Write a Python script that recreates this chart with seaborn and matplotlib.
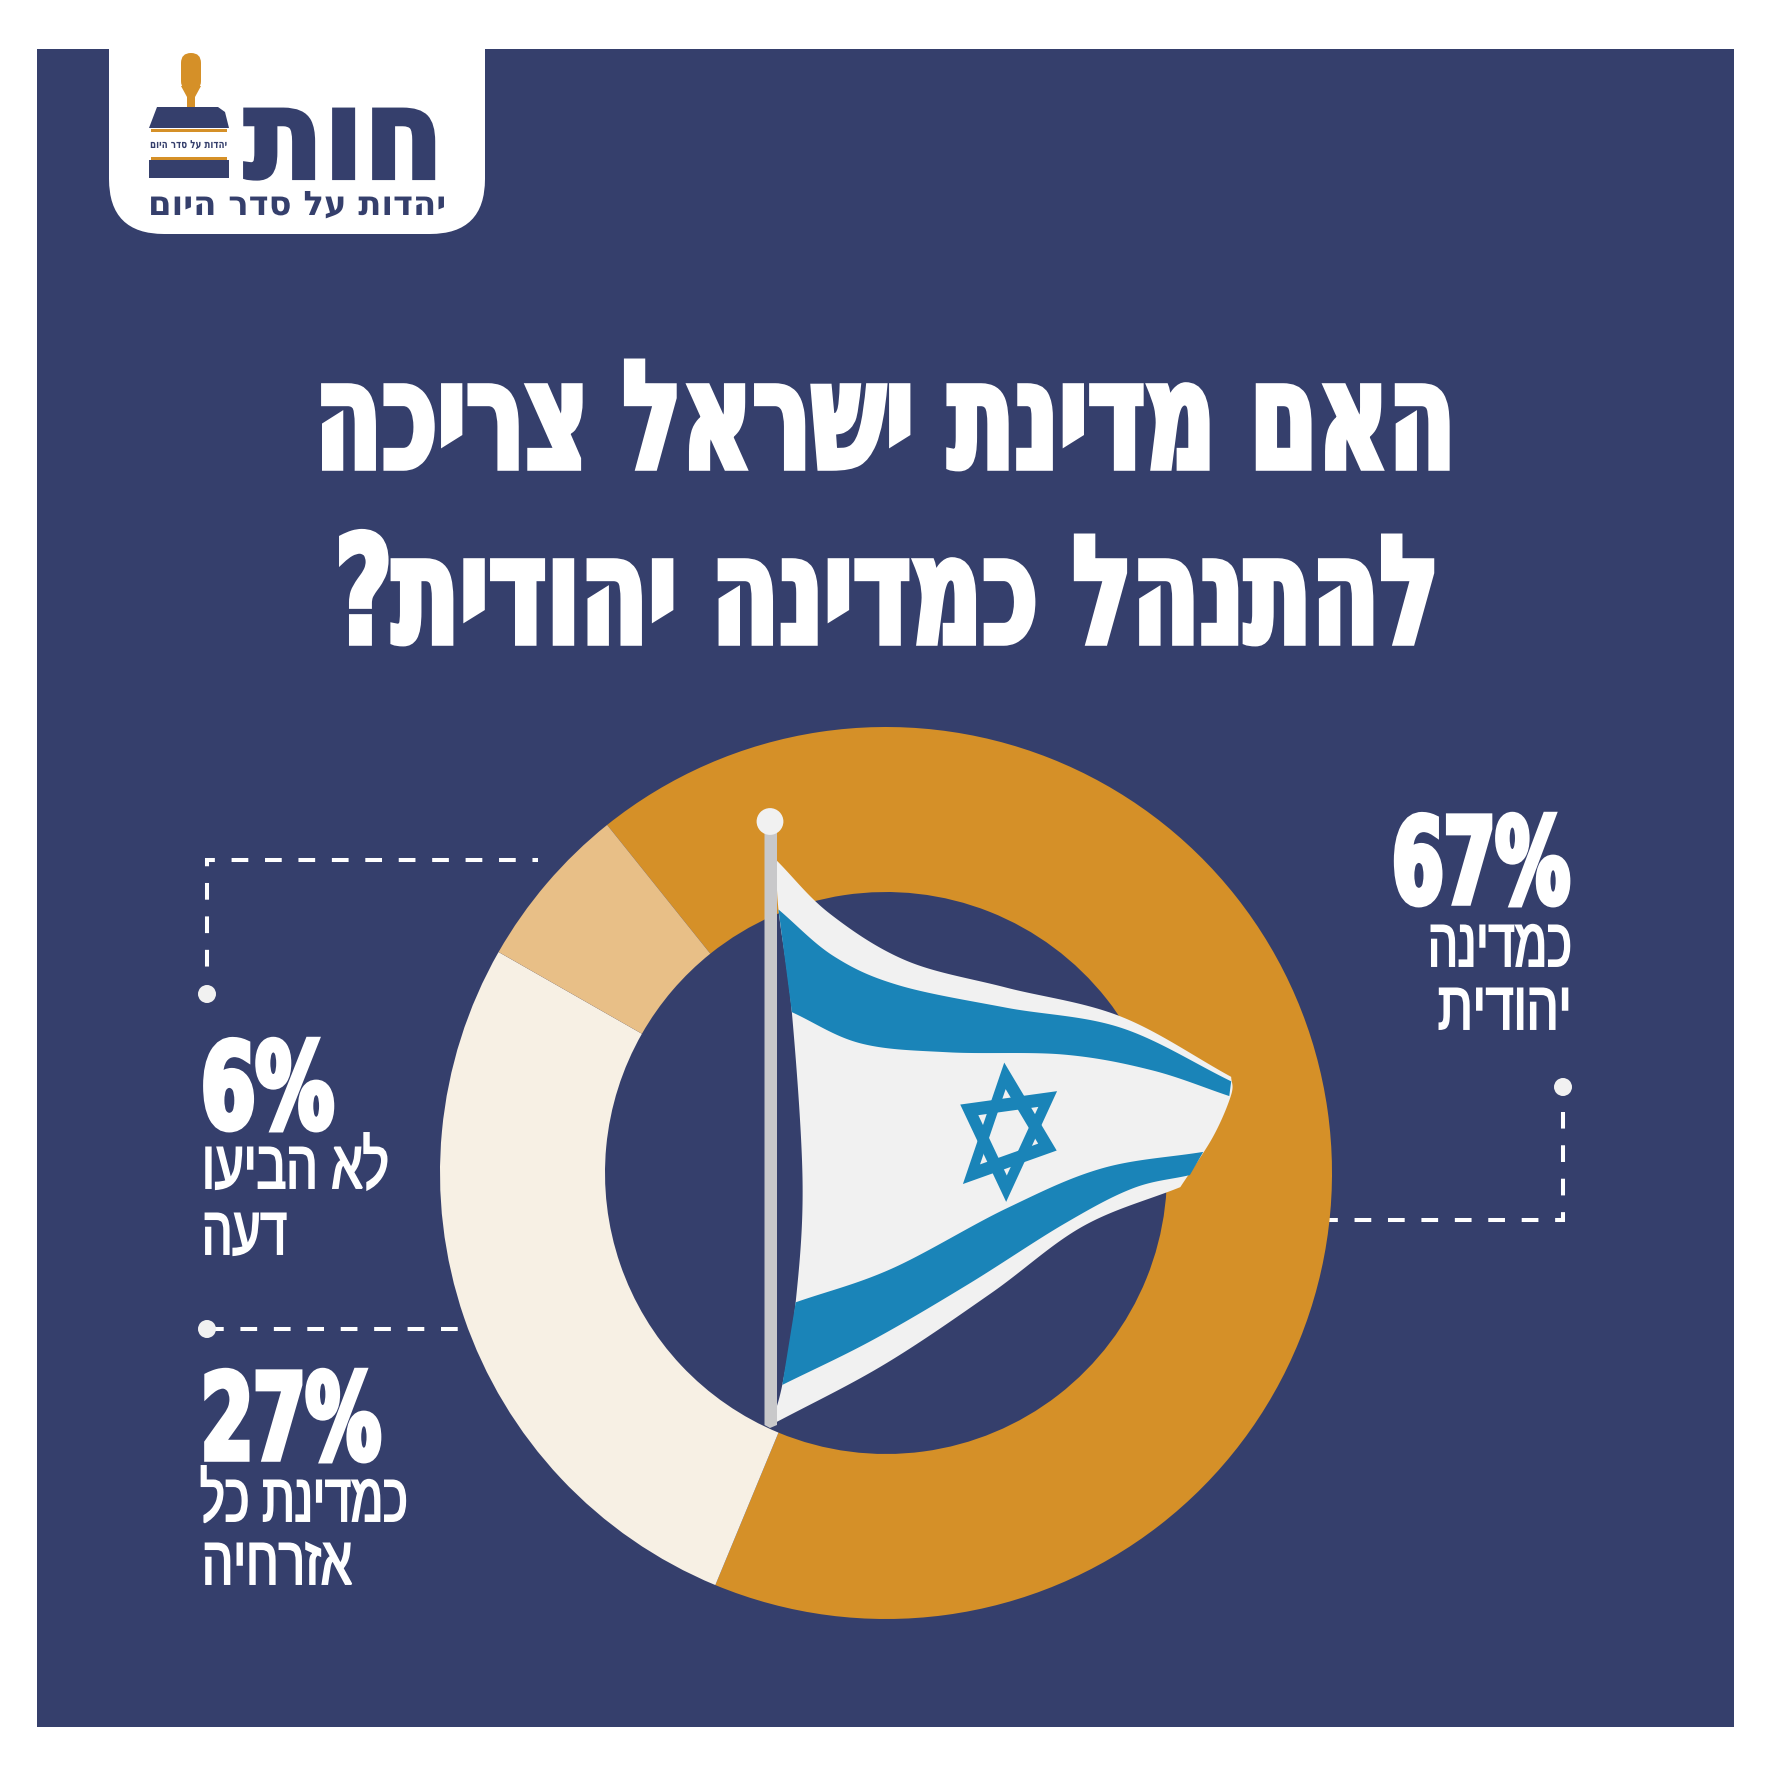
import numpy as np
import seaborn as sns
import matplotlib
matplotlib.use("Agg")
import matplotlib.pyplot as plt
import matplotlib.patheffects as pe
from matplotlib.patches import Rectangle, FancyBboxPatch, Circle, Polygon, PathPatch
from matplotlib.path import Path
from matplotlib.transforms import Affine2D

# data
title_lines = ["האם מדינת ישראל צריכה", "להתנהל כמדינה יהודית?"]
shares = [67, 27, 6]
slice_names = ["כמדינה יהודית", "כמדינת כל אזרחיה", "לא הביעו דעה"]
slice_colors = ["#d59028", "#f7f0e4", "#e8bf87"]
label_lines_67 = ["כמדינה", "יהודית"]
label_lines_27 = ["כמדינת כל", "אזרחיה"]
label_lines_6 = ["לא הביעו", "דעה"]
logo_word = "חות"
logo_tagline = "יהדות על סדר היום"

NAVY = "#353f6c"
BLUE = "#1a84b8"
FLAG_WHITE = "#f1f1f1"
POLE = "#c8c8ca"

sns.set_theme(style="white")
palette = sns.color_palette(slice_colors)


class Squeeze(pe.AbstractPathEffect):
    # reshapes a text about its start, the installed fonts have other proportions than this design
    def __init__(self, sx, sy=1, stroke=0):
        super().__init__()
        self.sx = sx
        self.sy = sy
        self.stroke = stroke

    def draw_path(self, renderer, gc, tpath, affine, rgbFace):
        gc0 = renderer.new_gc()
        gc0.copy_properties(gc)
        gc0.set_linewidth(self.stroke)
        gc0.set_foreground(rgbFace)
        gc0.set_joinstyle("miter")
        renderer.draw_path(gc0, tpath, Affine2D().scale(self.sx, self.sy) + affine, rgbFace)
        gc0.restore()


def rtl(s):
    return s[::-1]


def fit_text(x0, x1, base, s, size, sy=1, family="DejaVu Sans", weight="bold", color="white", stroke=0):
    t = ax.text(x0, base, s, fontsize=size, family=family, weight=weight, color=color,
                ha="left", va="baseline", zorder=6)
    w = t.get_window_extent(renderer).width
    t.set_path_effects([Squeeze((x1 - x0) / w, sy, stroke)])
    return t


def spline(pts, n=30):
    # catmull-rom through the outline points of the flag
    p = np.array(pts, float)
    p = np.vstack([2 * p[0] - p[1], p, 2 * p[-1] - p[-2]])
    out = []
    for i in range(1, len(p) - 2):
        for u in np.linspace(0, 1, n, endpoint=False):
            out.append(0.5 * (2 * p[i] + (p[i + 1] - p[i - 1]) * u
                              + (2 * p[i - 1] - 5 * p[i] + 4 * p[i + 1] - p[i + 2]) * u ** 2
                              + (3 * p[i] - p[i - 1] - 3 * p[i + 1] + p[i + 2]) * u ** 3))
    out.append(p[-2])
    return np.array(out)


def fz(pts):
    # flag outline was read at 2.613 x 2.24 from the crop at (700, 780)
    a = np.array(pts, float)
    return np.column_stack([700 + a[:, 0] / 2.613, 780 + a[:, 1] / 2.24])


fig = plt.figure(figsize=(17.72, 17.72), dpi=100, facecolor="white")
ax = fig.add_axes([0, 0, 1, 1])
renderer = fig.canvas.get_renderer()

# panel
ax.add_patch(Rectangle((37, 49), 1697, 1678, fc=NAVY, ec="none", zorder=0))

# donut
ax.pie(shares, colors=palette, startangle=231.3, counterclock=True, center=(886, 1173), radius=446,
       wedgeprops={"width": 165, "linewidth": 0}, frame=True)
ax.set_xlim(0, 1772)
ax.set_ylim(1772, 0)
ax.axis("off")


# dashed leaders, each one starts at its corner or dot
def dashed(xs, ys, phase=0.0):
    ax.plot(xs, ys, color="white", lw=2.9, ls=(phase, (4.15, 4.15)), zorder=0.5, dash_capstyle="butt")


dashed([205, 538], [860, 860], 1.7)
dashed([207, 207], [858, 971], 2.1)
dashed([207, 480], [1329, 1329])
dashed([1565, 1320], [1220, 1220], 1.7)
dashed([1563, 1563], [1222, 1112], 1.7)
for cx, cy in [(207, 994), (207, 1329), (1563, 1087)]:
    ax.add_patch(Circle((cx, cy), 9, fc=FLAG_WHITE, ec="none", zorder=2))

# flag
top_outer = [(200, 180), (340, 300), (540, 405), (800, 465), (1100, 530), (1388, 665)]
top_blue_up = [(205, 290), (350, 395), (520, 460), (800, 510), (1100, 555), (1388, 675)]
top_blue_low = [(240, 520), (420, 590), (650, 610), (950, 615), (1180, 650), (1383, 708)]
tip = [(1388, 665), (1388, 705), (1340, 800), (1255, 912)]
low_blue_up = [(250, 1170), (500, 1095), (800, 960), (1050, 870), (1315, 833)]
low_blue_low = [(215, 1355), (450, 1255), (700, 1130), (950, 995), (1130, 915), (1280, 885)]
bottom_outer = [(185, 1445), (480, 1310), (760, 1150), (1000, 1000), (1255, 912)]
left_edge = [(185, 1445), (215, 1355), (250, 1170), (268, 900), (240, 520), (205, 290), (200, 180)]

white_outline = np.vstack([spline(top_outer), spline(tip), spline(bottom_outer)[::-1], spline(left_edge)])
ax.add_patch(Polygon(fz(white_outline), fc=FLAG_WHITE, ec="none", zorder=3))
band_top = np.vstack([spline(top_blue_up), spline(top_blue_low)[::-1]])
ax.add_patch(Polygon(fz(band_top), fc=BLUE, ec="none", zorder=4))
band_low = np.vstack([spline(low_blue_up), spline(low_blue_low)[::-1]])
ax.add_patch(Polygon(fz(band_low), fc=BLUE, ec="none", zorder=4))

# star
for tri in [[(795, 633), (932, 830), (687, 905)], [(680, 727), (800, 945), (933, 697)]]:
    v = fz(tri)
    c = v.mean(axis=0)
    inner = c + 0.62 * (v - c)
    verts = np.vstack([v, v[:1], inner[::-1], inner[-1:]])
    codes = [Path.MOVETO, Path.LINETO, Path.LINETO, Path.CLOSEPOLY] * 2
    ax.add_patch(PathPatch(Path(verts, codes), fc=BLUE, ec="none", zorder=5))

# pole
ax.add_patch(Polygon([(764.5, 832), (777, 832), (777, 1425), (770, 1428), (764.5, 1425)], fc=POLE, ec="none", zorder=4))
ax.add_patch(Circle((770, 821.5), 13.4, fc=FLAG_WHITE, ec="none", zorder=5))

# logo tab, the top corners are off the panel
ax.add_patch(FancyBboxPatch((109, -60), 376, 294, boxstyle="round,pad=0,rounding_size=55", fc="white", ec="none", zorder=1))
ax.add_patch(Rectangle((0, 0), 1772, 49, fc="white", ec="none", zorder=1))
ax.add_patch(FancyBboxPatch((181, 53), 20, 38, boxstyle="round,pad=0,rounding_size=10", fc=palette[0], ec="none", zorder=2))
ax.add_patch(Polygon([(181, 86), (201, 86), (195, 97), (195, 108), (187, 108), (187, 97)], fc=palette[0], ec="none", zorder=2))
ax.add_patch(Polygon([(157, 107), (218, 107), (225, 112), (229, 128), (149, 128)], fc=NAVY, ec="none", zorder=3))
ax.add_patch(Rectangle((151, 129), 76, 3, fc=palette[0], ec="none", zorder=3))
ax.add_patch(Rectangle((151, 157), 76, 3, fc=palette[0], ec="none", zorder=3))
ax.add_patch(Rectangle((149, 160), 80, 18, fc=NAVY, ec="none", zorder=3))
fit_text(244, 444, 178, rtl(logo_word), 60, sy=1.5, color=NAVY, stroke=3)
fit_text(148, 446, 215, rtl(logo_tagline), 18, sy=1.35, color=NAVY)
fit_text(150, 227, 148, rtl(logo_tagline), 8, color=NAVY)

# title
fit_text(315, 1456, 468, rtl(title_lines[0]), 72, sy=1.5, stroke=4)
fit_text(335, 1439, 643, rtl(title_lines[1]), 72, sy=1.5, stroke=4)

# labels
big = dict(size=60, sy=1.43, stroke=4)
small = dict(size=42, sy=1.16, family="Liberation Sans", weight="normal", stroke=1.4)
fit_text(1392, 1570, 903, f"{shares[0]}%", **big)
fit_text(1428, 1572, 966, rtl(label_lines_67[0]), **small)
fit_text(1438, 1572, 1029, rtl(label_lines_67[1]), **small)

fit_text(201, 334, 1128, f"{shares[2]}%", **big)
fit_text(202, 389, 1188, rtl(label_lines_6[0]), **small)
fit_text(202, 287, 1254, rtl(label_lines_6[1]), **small)

fit_text(201, 381, 1459, f"{shares[1]}%", **big)
fit_text(200, 408, 1521, rtl(label_lines_27[0]), **small)
fit_text(202, 352, 1584, rtl(label_lines_27[1]), **small)

fig.savefig("out.png", dpi=100, facecolor="white")
